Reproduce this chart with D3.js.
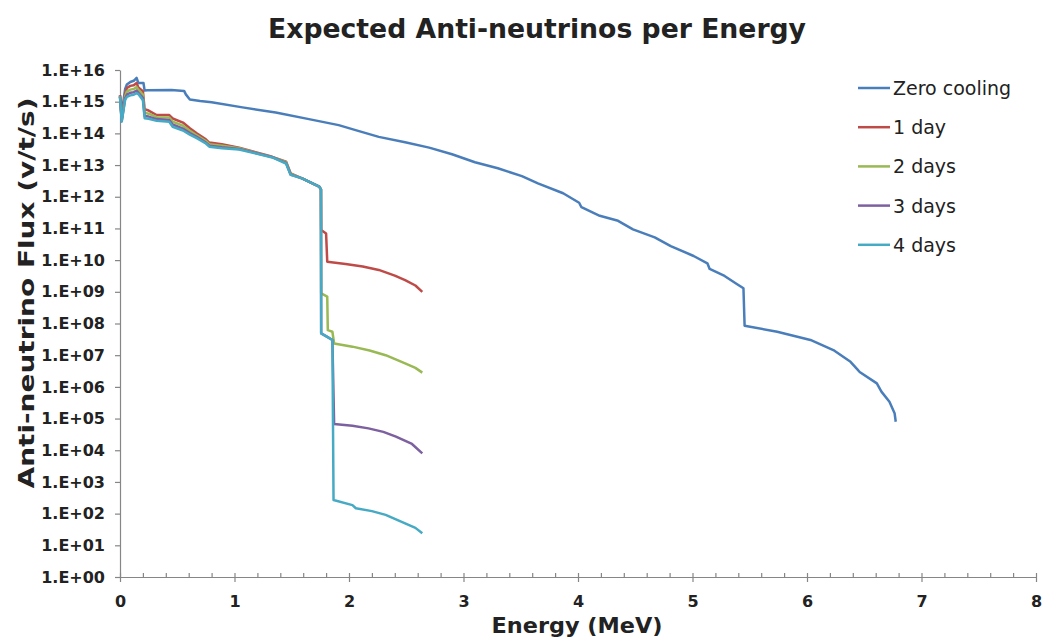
<!DOCTYPE html>
<html>
<head>
<meta charset="utf-8">
<script src="https://cdn.jsdelivr.net/npm/d3@7"></script>
<style>
  body { margin: 0; background: #fff; }
  svg text { font-family: "DejaVu Sans", Verdana, sans-serif; }
</style>
</head>
<body>
<div id="chart"></div>
<script>
var seriesNames = ["Zero cooling", "1 day", "2 days", "3 days", "4 days"];
var seriesColors = ["#4a7ebb", "#be4b48", "#98b954", "#7d60a0", "#46aac5"];

var xTicks = [0, 1, 2, 3, 4, 5, 6, 7, 8];
var yTicks = [1e0, 1e1, 1e2, 1e3, 1e4, 1e5, 1e6, 1e7, 1e8, 1e9, 1e10, 1e11, 1e12, 1e13, 1e14, 1e15, 1e16];
var yTickLabels = ["1.E+00", "1.E+01", "1.E+02", "1.E+03", "1.E+04", "1.E+05", "1.E+06", "1.E+07", "1.E+08",
  "1.E+09", "1.E+10", "1.E+11", "1.E+12", "1.E+13", "1.E+14", "1.E+15", "1.E+16"];

// zero cooling (MeV, v/t/s)
var zeroEnergy = [0, 0.013, 0.045, 0.06, 0.09, 0.12, 0.145, 0.16, 0.205, 0.215, 0.24, 0.45, 0.56, 0.575, 0.61,
  0.70, 0.80, 1.07, 1.36, 1.65, 1.91, 2.08, 2.26, 2.49, 2.70, 2.90, 3.10, 3.30, 3.51, 3.65, 3.87, 4.01, 4.03, 4.19, 4.35,
  4.48, 4.67, 4.81, 5.01, 5.13, 5.15, 5.28, 5.39, 5.445, 5.455, 5.74, 6.03, 6.23, 6.38, 6.44, 6.46, 6.61,
  6.65, 6.72, 6.765, 6.775];
var zeroFlux = [1.58e15, 3.98e14, 2.51e15, 3.47e15, 4.17e15, 4.57e15, 5.62e15, 3.89e15, 3.89e15, 2.24e15,
  2.29e15, 2.34e15, 2.19e15, 1.70e15, 1.17e15, 1.05e15, 9.55e14, 6.61e14, 4.57e14, 2.82e14, 1.82e14, 1.20e14, 7.76e13,
  5.25e13, 3.55e13, 2.19e13, 1.23e13, 7.94e12, 4.47e12, 2.63e12, 1.29e12, 6.46e11, 4.68e11, 2.51e11, 1.74e11, 9.33e10,
  5.25e10, 2.75e10, 1.35e10, 7.94e9, 5.25e9, 3.16e9, 1.74e9, 1.29e9, 8.51e7, 5.50e7, 3.02e7, 1.45e7, 6.17e6,
  3.55e6, 2.95e6, 1.29e6, 7.08e5, 3.39e5, 1.48e5, 7.94e4];

// cooled spectra share the energies up to the 1.76 MeV edge
var earlyEnergy = [0, 0.015, 0.045, 0.06, 0.09, 0.12, 0.145, 0.16, 0.20, 0.215, 0.25, 0.32, 0.43, 0.46, 0.55,
  0.61, 0.67, 0.75, 0.78, 0.89, 1.04, 1.33, 1.45, 1.49, 1.59, 1.74, 1.755];

var day1Early = [1.58e15, 2.82e14, 1.78e15, 2.69e15, 3.16e15, 3.31e15, 3.89e15, 2.82e15, 2.14e15, 5.75e14,
  5.25e14, 3.80e14, 3.80e14, 2.95e14, 2.19e14, 1.45e14, 1.00e14, 6.46e13, 5.13e13, 4.57e13, 3.55e13, 1.82e13,
  1.29e13, 5.50e12, 3.80e12, 2.09e12, 1.70e12];
var day1TailEnergy = [1.757, 1.80, 1.81, 1.97, 2.12, 2.26, 2.40, 2.49, 2.58, 2.64];
var day1TailFlux = [8.91e10, 6.92e10, 8.91e9, 7.59e9, 6.31e9, 4.90e9, 3.24e9, 2.34e9, 1.58e9, 1.00e9];

var day2Early = [1.51e15, 2.63e14, 1.48e15, 2.09e15, 2.40e15, 2.51e15, 2.88e15, 2.34e15, 1.66e15, 4.47e14,
  4.17e14, 3.24e14, 3.16e14, 2.34e14, 1.74e14, 1.20e14, 8.71e13, 5.75e13, 4.57e13, 4.07e13, 3.39e13, 1.78e13,
  1.23e13, 5.25e12, 3.80e12, 2.09e12, 1.70e12];
var day2TailEnergy = [1.757, 1.81, 1.815, 1.855, 1.87, 2.03, 2.18, 2.32, 2.49, 2.58, 2.64];
var day2TailFlux = [8.91e8, 7.08e8, 6.17e7, 5.50e7, 2.34e7, 1.86e7, 1.41e7, 1.00e7, 5.50e6, 3.98e6, 2.82e6];

var day3Early = [1.45e15, 2.45e14, 1.29e15, 1.66e15, 1.91e15, 2.00e15, 2.24e15, 1.95e15, 1.32e15, 3.55e14,
  3.39e14, 2.82e14, 2.63e14, 1.91e14, 1.41e14, 1.02e14, 7.76e13, 5.13e13, 4.07e13, 3.63e13, 3.24e13, 1.78e13,
  1.17e13, 5.01e12, 3.80e12, 2.09e12, 1.70e12];
var day3TailEnergy = [1.757, 1.81, 1.855, 1.87, 2.03, 2.17, 2.30, 2.41, 2.55, 2.64];
var day3TailFlux = [4.90e7, 3.80e7, 3.02e7, 6.76e4, 5.89e4, 4.90e4, 3.80e4, 2.69e4, 1.58e4, 7.94e3];

var day4Early = [1.41e15, 2.34e14, 1.15e15, 1.41e15, 1.58e15, 1.66e15, 1.86e15, 1.74e15, 1.12e15, 3.02e14,
  2.88e14, 2.51e14, 2.34e14, 1.62e14, 1.23e14, 9.12e13, 7.08e13, 4.79e13, 3.80e13, 3.39e13, 3.09e13, 1.74e13,
  1.12e13, 4.90e12, 3.80e12, 2.09e12, 1.70e12];
var day4TailEnergy = [1.757, 1.81, 1.855, 1.865, 2.03, 2.06, 2.20, 2.32, 2.49, 2.58, 2.64];
var day4TailFlux = [4.90e7, 3.80e7, 3.02e7, 269, 186, 148, 120, 91.2, 49.0, 35.5, 24.0];

function pairs(ex, fx) {
  return ex.map(function(e, i) { return { e: e, f: fx[i] }; });
}

var series = [
  pairs(zeroEnergy, zeroFlux),
  pairs(earlyEnergy.concat(day1TailEnergy), day1Early.concat(day1TailFlux)),
  pairs(earlyEnergy.concat(day2TailEnergy), day2Early.concat(day2TailFlux)),
  pairs(earlyEnergy.concat(day3TailEnergy), day3Early.concat(day3TailFlux)),
  pairs(earlyEnergy.concat(day4TailEnergy), day4Early.concat(day4TailFlux))
];

var width = 1043, height = 640;
var plot = { left: 120, right: 1036, top: 70, bottom: 577 };

var x = d3.scaleLinear().domain([0, 8]).range([plot.left, plot.right]);
var y = d3.scaleLog().domain([1, 1e16]).range([plot.bottom, plot.top]);

var svg = d3.select("#chart").append("svg")
  .attr("width", width)
  .attr("height", height);

// title
svg.append("text")
  .attr("x", 537).attr("y", 38)
  .attr("text-anchor", "middle")
  .attr("textLength", 538)
  .attr("lengthAdjust", "spacingAndGlyphs")
  .style("font-size", "26px")
  .style("font-weight", "bold")
  .style("fill", "#222")
  .text("Expected Anti-neutrinos per Energy");

// y axis
svg.append("g")
  .attr("transform", "translate(" + plot.left + ",0)")
  .call(d3.axisLeft(y).tickValues(yTicks)
    .tickFormat(function(d, i) { return yTickLabels[i]; })
    .tickSize(5).tickSizeOuter(0).tickPadding(10));

// x axis, major + minor ticks
svg.append("g")
  .attr("transform", "translate(0," + plot.bottom + ")")
  .call(d3.axisBottom(x).tickValues(xTicks).tickFormat(d3.format("d"))
    .tickSize(5).tickSizeOuter(0).tickPadding(14));

svg.append("g")
  .attr("transform", "translate(0," + plot.bottom + ")")
  .call(d3.axisBottom(x).tickValues(d3.range(0, 8.01, 0.2)).tickFormat("")
    .tickSize(-4).tickSizeOuter(0))
  .select(".domain").remove();

svg.selectAll(".domain, .tick line")
  .attr("stroke", "#868686")
  .attr("stroke-width", 1.2);

svg.selectAll(".tick text")
  .style("font-size", "16px")
  .style("font-weight", "bold")
  .style("fill", "#222");

// axis titles
svg.append("text")
  .attr("transform", "translate(34,293) rotate(-90)")
  .attr("text-anchor", "middle")
  .attr("textLength", 391)
  .attr("lengthAdjust", "spacingAndGlyphs")
  .style("font-size", "22px")
  .style("font-weight", "bold")
  .style("fill", "#222")
  .text("Anti-neutrino Flux (v/t/s)");

svg.append("text")
  .attr("x", 577).attr("y", 633)
  .attr("text-anchor", "middle")
  .attr("textLength", 171)
  .attr("lengthAdjust", "spacingAndGlyphs")
  .style("font-size", "21px")
  .style("font-weight", "bold")
  .style("fill", "#222")
  .text("Energy (MeV)");

// lines
var line = d3.line()
  .x(function(d) { return x(d.e); })
  .y(function(d) { return y(d.f); });

svg.selectAll("path.series")
  .data(series)
  .enter().append("path")
  .attr("class", "series")
  .attr("d", line)
  .attr("fill", "none")
  .attr("stroke", function(d, i) { return seriesColors[i]; })
  .attr("stroke-width", 2.5)
  .attr("stroke-linejoin", "round");

// legend
var legend = svg.selectAll("g.legend")
  .data(seriesNames)
  .enter().append("g")
  .attr("class", "legend")
  .attr("transform", function(d, i) { return "translate(858," + (88 + i * 39.2) + ")"; });

legend.append("line")
  .attr("x1", 0).attr("x2", 32)
  .attr("stroke", function(d, i) { return seriesColors[i]; })
  .attr("stroke-width", 2.5);

legend.append("text")
  .attr("x", 35).attr("y", 7)
  .style("font-size", "19px")
  .style("fill", "#222")
  .text(function(d) { return d; });
</script>
</body>
</html>
